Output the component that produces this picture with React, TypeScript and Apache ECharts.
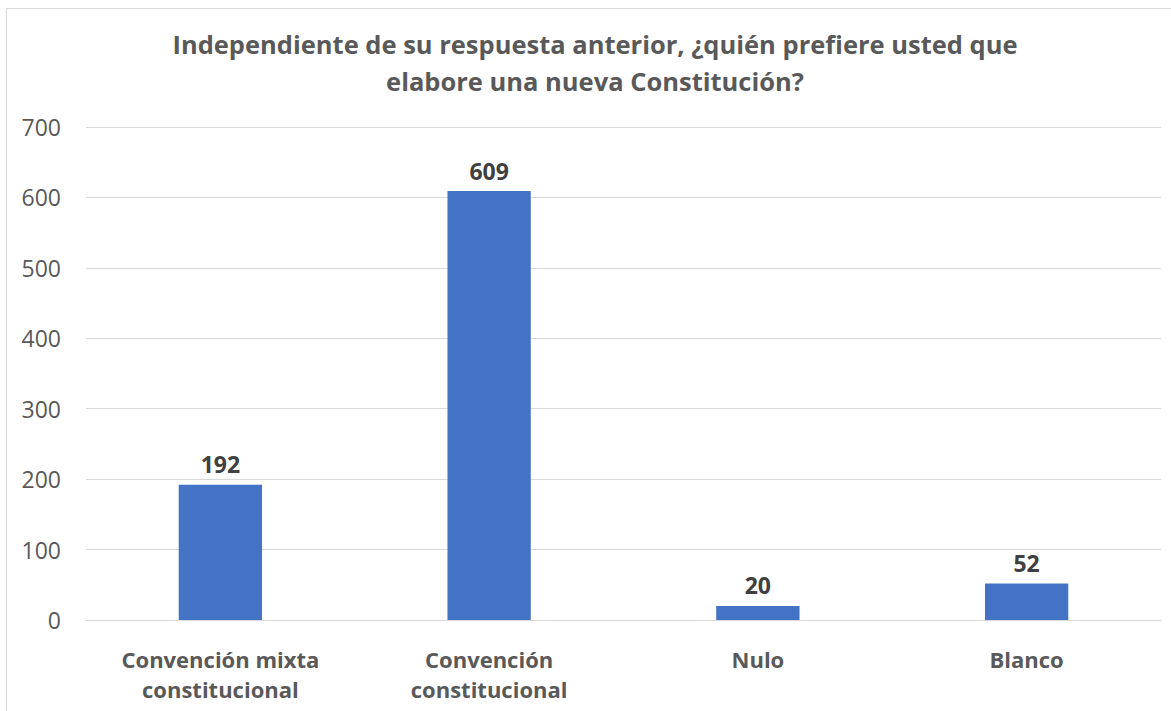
import React, { useEffect, useRef } from "react";
import * as echarts from "echarts";

const titleText = "Independiente de su respuesta anterior, ¿quién prefiere usted que\nelabore una nueva Constitución?";
const categories = ["Convención mixta\nconstitucional", "Convención\nconstitucional", "Nulo", "Blanco"];
const values = [192, 609, 20, 52];
const yMin = 0;
const yMax = 700;
const yInterval = 100;

export default function App() {
  const ref = useRef<HTMLDivElement>(null);
  useEffect(() => {
    const chart = echarts.init(ref.current!, undefined, { renderer: "svg" });
    const font = "'Open Sans', sans-serif";
    chart.setOption({
      animation: false,
      backgroundColor: "#ffffff",
      graphic: [
        {
          type: "rect",
          shape: { x: 6.5, y: 8.5, width: 1200, height: 800 },
          style: { fill: "none", stroke: "#d9d9d9", lineWidth: 1 },
          silent: true,
        },
      ],
      title: {
        text: titleText,
        left: 590,
        textAlign: "center",
        top: 20,
        textStyle: {
          fontFamily: font,
          fontSize: 25.5,
          fontWeight: "bold",
          color: "#595959",
          lineHeight: 37,
        },
      },
      grid: { left: 86, right: 10, top: 127, bottom: 91 },
      xAxis: {
        type: "category",
        data: categories,
        axisLine: { show: true, lineStyle: { color: "#d9d9d9", width: 1 } },
        axisTick: { show: false },
        axisLabel: {
          fontFamily: font,
          fontSize: 22,
          fontWeight: "bold",
          color: "#595959",
          lineHeight: 30,
          margin: 24,
          interval: 0,
        },
      },
      yAxis: {
        type: "value",
        min: yMin,
        max: yMax,
        interval: yInterval,
        axisLine: { show: false },
        axisTick: { show: false },
        splitLine: { lineStyle: { color: "#d9d9d9", width: 1 } },
        axisLabel: {
          fontFamily: font,
          fontSize: 23,
          color: "#595959",
          margin: 25,
        },
      },
      series: [
        {
          type: "bar",
          data: values,
          barWidth: "31%",
          itemStyle: { color: "#4472c4" },
          label: {
            show: true,
            position: "top",
            distance: 9,
            fontFamily: font,
            fontSize: 23,
            fontWeight: "bold",
            color: "#404040",
          },
        },
      ],
    });
    return () => chart.dispose();
  }, []);
  return (
    <div
      ref={ref}
      style={{ position: "fixed", left: 0, top: 0, width: 1171, height: 711 }}
    />
  );
}
